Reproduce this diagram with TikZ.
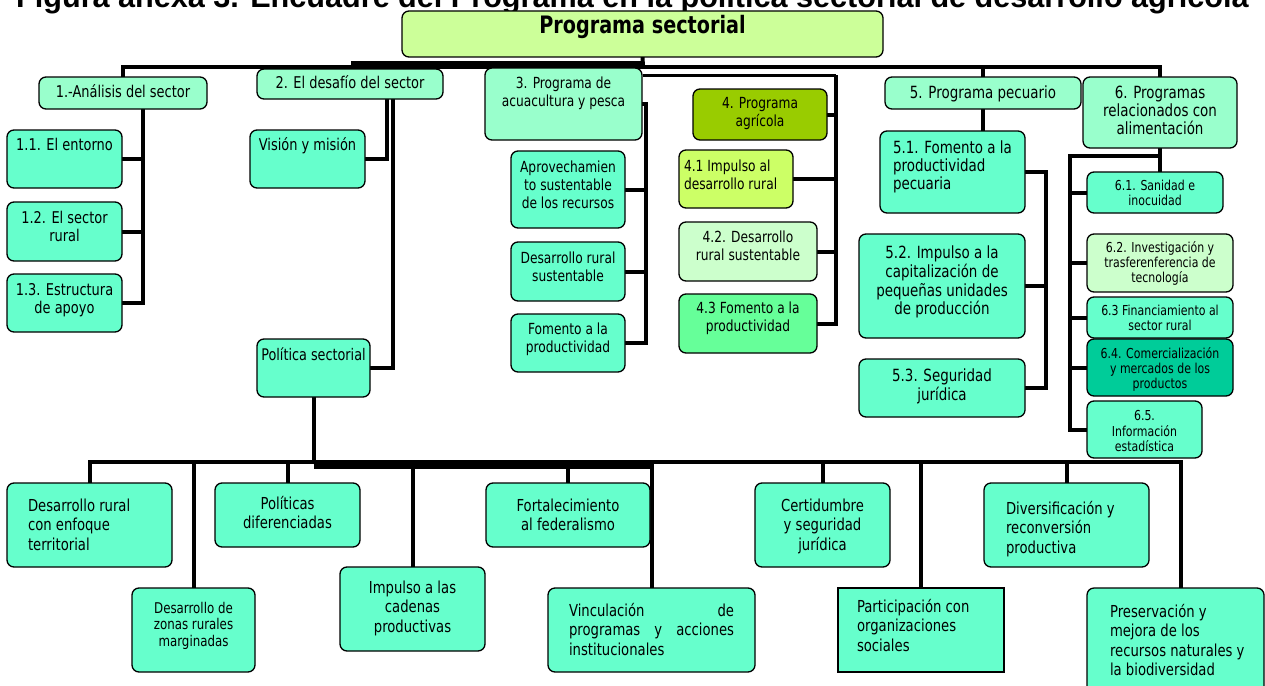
\documentclass[tikz,border=0pt]{standalone}
\usepackage{fontspec}
\setmainfont{DejaVu Sans}[FakeStretch=0.8]
\newfontfamily\condf{DejaVu Sans}[FakeStretch=0.8]
\newfontfamily\capf{Liberation Sans}
\definecolor{cTop}{HTML}{CCFF99}
\definecolor{cHead}{HTML}{99FFCC}
\definecolor{cKid}{HTML}{66FFCC}
\definecolor{cAgr}{HTML}{99CC00}
\definecolor{cAa}{HTML}{CCFF66}
\definecolor{cAb}{HTML}{CCFFCC}
\definecolor{cAc}{HTML}{66FF99}
\definecolor{cCd}{HTML}{00CC99}
\newcommand\fH{\fontsize{16.2}{18}\selectfont}
\newcommand\fM{\fontsize{15.3}{18.2}\selectfont}
\newcommand\fL{\fontsize{16.8}{18.4}\selectfont}
\newcommand\fS{\fontsize{13.7}{15.2}\selectfont}
\newcommand\fB{\condf\fontsize{16.5}{19.6}\selectfont}
\newcommand\fBs{\condf\fontsize{14.8}{16.6}\selectfont}
\pgfdeclarelayer{bg}
\pgfsetlayers{bg,main}
% #1 style, #2 name, #3 x1, #4 y1, #5 x2, #6 y2, #7 first baseline, #8 format, #9 text
\newcommand\pbx[9][]{%
  \pgfmathsetmacro\bw{#5-#3}\pgfmathsetmacro\bh{#6-#4}%
  \node[box,#1,anchor=north west,minimum width=\bw pt,minimum height=\bh pt] (#2) at (#3,#4)
    {\parbox[t][\bh pt][t]{\bw pt}{#8\vspace*{\dimexpr#7pt-\ht\strutbox\relax}\strut #9}};}
\begin{document}
\begin{tikzpicture}[x=1pt,y=-1pt,
  box/.style={draw=black,line width=1.3pt,rounded corners=7pt,fill=cKid,inner sep=0pt,outer sep=0pt},
  conn/.style={draw=black,line width=4pt,line join=miter}]
\useasboundingbox (0,0) rectangle (1265,685);
\begin{pgfonlayer}{bg}
\fill[white] (0,0) rectangle (1265,685);
\end{pgfonlayer}

\node[font=\capf\bfseries\fontsize{30.6}{31}\selectfont,anchor=base west,inner sep=0pt] (cap) at (16,8)
  {Figura anexa 3. Encuadre del Programa en la política sectorial de desarrollo agrícola};

\pbx[fill=cTop]{top}{402}{11}{883}{57}{23}{\bfseries\fontsize{24}{28}\selectfont\centering}{Programa sectorial}

\pbx[fill=cHead]{h1}{39}{77}{207}{109}{20}{\fH\centering}{1.-Análisis del sector}
\pbx[fill=cHead]{h2}{257}{69}{443}{99}{19}{\fH\centering}{2. El desafío del sector}
\pbx[fill=cHead]{h3}{485}{68}{642}{140}{20}{\fM\centering}{3. Programa de\\acuacultura y pesca}
\pbx[fill=cAgr]{h4}{693}{89}{827}{140}{19}{\fM\centering}{4. Programa\\agrícola}
\pbx[fill=cHead]{h5}{885}{77}{1081}{109}{21}{\fL\centering}{5. Programa pecuario}
\pbx[fill=cHead]{h6}{1083}{77}{1237}{148}{21}{\fL\centering}{6. Programas\\relacionados con\\alimentación}

\pbx{c11}{7}{130}{122}{188}{20}{\fH\centering}{1.1. El entorno}
\pbx{c12}{7}{202}{122}{261}{21}{\fH\centering}{1.2. El sector\\rural}
\pbx{c13}{7}{274}{122}{332}{21}{\fH\centering}{1.3. Estructura\\de apoyo}

\pbx{c21}{250}{130}{365}{188}{20}{\fH\centering}{Visión y misión}
\pbx{c22}{257}{339}{370}{397}{21}{\condf\fontsize{16}{19}\selectfont\centering}{\mbox{Política sectorial}}

\pbx{c31}{511}{151}{625}{228}{21}{\fM\centering}{Aprovechamien\\to sustentable\\de los recursos}
\pbx{c32}{511}{242}{625}{301}{21}{\fM\centering}{\mbox{Desarrollo rural}\\sustentable}
\pbx{c33}{511}{314}{625}{372}{20}{\fM\centering}{Fomento a la\\productividad}

\pbx[fill=cAa]{c41}{679}{150}{793}{208}{21}{\fM\raggedright\leftskip=5pt}{\mbox{4.1 Impulso al}\\\mbox{desarrollo rural}}
\pbx[fill=cAb]{c42}{679}{222}{817}{281}{20}{\fM\centering}{4.2. Desarrollo\\rural sustentable}
\pbx[fill=cAc]{c43}{679}{294}{817}{353}{19}{\fM\centering}{4.3 Fomento a la\\productividad}

\pbx{c51}{880}{131}{1025}{213}{22}{\fL\raggedright\leftskip=13pt}{5.1. Fomento a la\\productividad\\pecuaria}
\pbx{c52}{859}{234}{1025}{338}{24}{\fL\centering}{5.2. Impulso a la\\capitalización de\\pequeñas unidades\\de producción}
\pbx{c53}{859}{359}{1025}{417}{22}{\fL\centering}{5.3. Seguridad\\jurídica}

\pbx{c61}{1087}{172}{1223}{213}{18}{\fS\centering}{6.1. Sanidad e\\inocuidad}
\pbx[fill=cAb]{c62}{1087}{234}{1233}{292}{18}{\fS\centering}{6.2. Investigación y\\trasferenferencia de\\tecnología}
\pbx{c63}{1087}{297}{1233}{338}{18}{\fS\centering}{6.3 Financiamiento al\\sector rural}
\pbx[fill=cCd]{c64}{1087}{339}{1233}{396}{19}{\fS\centering}{6.4. Comercialización\\y mercados de los\\productos}
\pbx{c65}{1087}{401}{1202}{458}{19}{\fS\centering}{6.5.\\Información\\estadística}

\pbx{b1}{7}{483}{172}{567}{28}{\fB\raggedright\leftskip=21pt}{Desarrollo rural\\con enfoque\\territorial}
\pbx{b2}{132}{588}{255}{672}{25}{\fBs\centering}{Desarrollo de\\zonas rurales\\marginadas}
\pbx{b3}{215}{483}{360}{547}{26}{\fB\centering}{Políticas\\diferenciadas}
\pbx{b4}{340}{567}{485}{651}{26}{\fB\centering}{Impulso a las\\cadenas\\productivas}
\pbx{b5}{486}{483}{650}{547}{28}{\fB\centering}{Fortalecimiento\\al federalismo}
\pbx{b6}{548}{588}{755}{672}{28}{\fB\leftskip=21pt\rightskip=21pt}{Vinculación\hfill de\\programas\hfill y\hfill acciones\\institucionales}
\pbx{b7}{755}{483}{890}{567}{28}{\fB\centering}{Certidumbre\\y seguridad\\jurídica}
\pbx[sharp corners]{b8}{838}{588}{1004}{672}{24}{\fB\raggedright\leftskip=19pt}{Participación con\\organizaciones\\sociales}
\pbx{b9}{984}{483}{1149}{567}{31}{\fB\raggedright\leftskip=22pt}{Diversificación y\\reconversión\\productiva}
\pbx{b10}{1087}{588}{1264}{700}{29}{\fB\raggedright\leftskip=23pt}{Preservación y\\mejora de los\\recursos naturales y\\la biodiversidad}

\coordinate (bT) at (643,67);
\coordinate (bTl) at (351,63.5);
\coordinate (g4a) at (643,75);
\coordinate (g4v) at (836,75);
\coordinate (v1) at (143,0);
\coordinate (v2a) at (387,0);
\coordinate (v2b) at (393,0);
\coordinate (v3) at (646,0);
\coordinate (v5) at (1046,0);
\coordinate (v6) at (1070,156);
\coordinate (bB) at (0,462);
\coordinate (bBt) at (0,466);
\coordinate (bBr) at (1181,462);

\begin{pgfonlayer}{bg}
% top level
\draw[conn] (top.south) -- (bT);
\draw[conn] (h1.north) |- (bT) -| (h6.north);
\draw[conn] (bTl) -- (bTl -| bT);
\draw[conn] (h2.north) -- (h2.north |- bT);
\draw[conn] (h3.north) -- (h3.north |- bT);
\draw[conn] (h5.north) -- (h5.north |- bT);
% group 1
\draw[conn] (h1.south -| v1) |- (c13.east);
\draw[conn] (c11.east) -- (c11.east -| v1);
\draw[conn] (c12.east) -- (c12.east -| v1);
% group 2
\draw[conn] (h2.south -| v2a) |- (c21.east);
\draw[conn] (h2.south -| v2b) |- (c22.east);
% group 3
\draw[conn] (h3.east) -| (v3 |- c33.east) -- (c33.east);
\draw[conn] (c31.east) -- (c31.east -| v3);
\draw[conn] (c32.east) -- (c32.east -| v3);
% group 4
\draw[conn,line width=3pt] (g4a) -- (g4v);
\draw[conn] (g4v) |- (c43.east);
\draw[conn] (h4.east) -- (h4.east -| g4v);
\draw[conn] (c41.east) -- (c41.east -| g4v);
\draw[conn] (c42.east) -- (c42.east -| g4v);
% group 5
\draw[conn] (h5.south) -- (h5.south |- c51.north);
\draw[conn] (c51.east) -| (v5 |- c53.east) -- (c53.east);
\draw[conn] (c52.east) -- (c52.east -| v5);
% group 6
\draw[conn] (h6.south) -- (h6.south |- c61.north);
\draw[conn] (h6.south |- v6) -- (v6) |- (c65.west);
\draw[conn] (c61.west) -- (c61.west -| v6);
\draw[conn] (c62.west) -- (c62.west -| v6);
\draw[conn] (c63.west) -- (c63.west -| v6);
\draw[conn] (c64.west) -- (c64.west -| v6);
% bottom
\draw[conn] (c22.south) -- (c22.south |- bB);
\draw[conn] (b1.north) -- (b1.north |- bB) -- (bBr) -- (bBr |- b10.north);
\draw[conn,line width=5pt] (c22.south |- bBt) -- (b6.north |- bBt);
\foreach \n in {b2,b3,b4,b5,b6,b7,b8,b9}
  \draw[conn] (\n.north) -- (\n.north |- bB);
\end{pgfonlayer}
\end{tikzpicture}
\end{document}
